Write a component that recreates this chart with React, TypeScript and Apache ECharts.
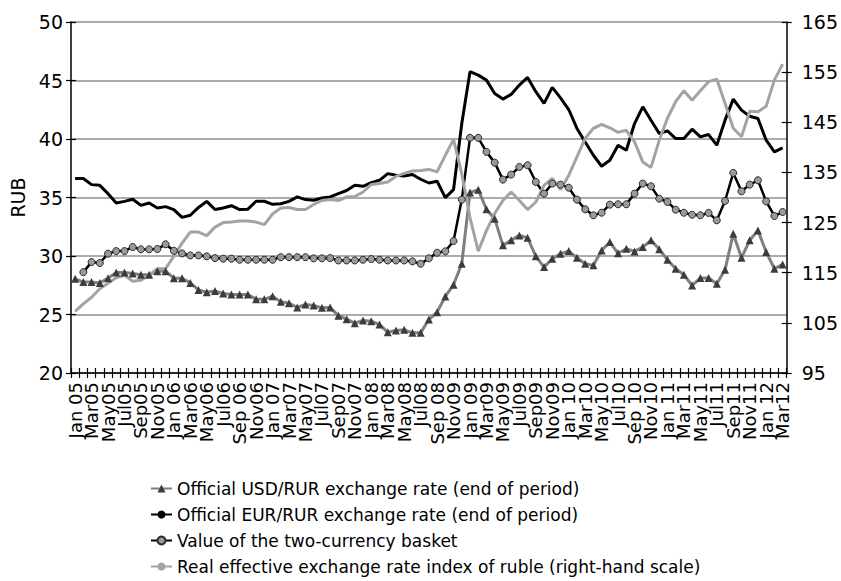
import { useEffect, useRef } from "react";
import * as echarts from "echarts";

// Monthly observations, January 2005 – March 2012
const months = [
  "Jan 05", "Feb05", "Mar05", "Apr05", "May05", "Jun05", "Jul05", "Aug05", "Sep05", "Oct05", "Nov05", "Dec05",
  "Jan 06", "Feb06", "Mar06", "Apr06", "May06", "Jun06", "Jul06", "Aug06", "Sep 06", "Oct06", "Nov06", "Dec06",
  "Jan 07", "Feb07", "Mar07", "Apr07", "May07", "Jun07", "Jul07", "Aug07", "Sep07", "Oct07", "Nov07", "Dec07",
  "Jan 08", "Feb08", "Mar08", "Apr08", "May08", "Jun08", "Jul08", "Aug08", "Sep 08", "Oct08", "Nov09", "Dec08",
  "Jan 09", "Feb09", "Mar09", "Apr09", "May09", "Jun09", "Jul09", "Aug09", "Sep09", "Oct09", "Nov09", "Dec09",
  "Jan 10", "Feb10", "Mar10", "Apr10", "May10", "Jun10", "Jul10", "Aug10", "Sep 10", "Oct10", "Nov10", "Dec10",
  "Jan 11", "Feb11", "Mar11", "Apr11", "May11", "Jun11", "Jul11", "Aug11", "Sep11", "Oct11", "Nov11", "Dec11",
  "Jan 12", "Feb12", "Mar12",
];

// RUB per USD, end of month
const usdRate = [
  28.05, 27.77, 27.77, 27.7, 28.1, 28.6, 28.6, 28.5, 28.4, 28.4, 28.7, 28.7,
  28.1, 28.1, 27.7, 27.1, 26.9, 27.0, 26.8, 26.7, 26.7, 26.7, 26.3, 26.3,
  26.57, 26.1, 25.97, 25.6, 25.86, 25.77, 25.57, 25.6, 24.9, 24.6, 24.26, 24.49,
  24.43, 24.14, 23.49, 23.63, 23.69, 23.43, 23.43, 24.57, 25.2, 26.54, 27.54, 29.34,
  35.42, 35.67, 33.99, 33.19, 30.91, 31.34, 31.76, 31.56, 29.97, 29.05, 29.77, 30.19,
  30.42, 29.85, 29.34, 29.2, 30.48, 31.19, 30.23, 30.62, 30.39, 30.76, 31.34, 30.57,
  29.68, 28.91, 28.4, 27.48, 28.11, 28.11, 27.63, 28.82, 31.91, 29.85, 31.34, 32.19,
  30.34, 28.91, 29.28,
];

// RUB per EUR, end of month
const eurRate = [
  36.62, 36.62, 36.1, 36.04, 35.33, 34.53, 34.67, 34.85, 34.33, 34.53, 34.1, 34.22,
  33.97, 33.3, 33.48, 34.15, 34.67, 33.97, 34.1, 34.3, 33.97, 34.0, 34.68, 34.68,
  34.42, 34.47, 34.67, 35.05, 34.82, 34.76, 34.96, 35.05, 35.33, 35.6, 36.04, 35.96,
  36.27, 36.47, 37.04, 36.9, 36.84, 36.96, 36.56, 36.24, 36.39, 34.99, 35.67, 41.32,
  45.75, 45.46, 45.03, 43.89, 43.41, 43.81, 44.61, 45.26, 44.04, 43.04, 44.41, 43.52,
  42.52, 40.9, 39.75, 38.61, 37.67, 38.18, 39.47, 39.04, 41.32, 42.75, 41.61, 40.47,
  40.7, 40.04, 40.04, 40.84, 40.18, 40.38, 39.47, 41.61, 43.41, 42.47, 41.95, 41.75,
  39.9, 38.9, 39.24,
];

// Dual-currency basket (USD + EUR), RUB; series begins in February 2005
const basketValue = [
  null, 28.62, 29.48, 29.4, 30.2, 30.42, 30.42, 30.77, 30.57, 30.57, 30.6, 31.0,
  30.45, 30.22, 30.05, 30.05, 29.97, 29.82, 29.77, 29.77, 29.68, 29.68, 29.68, 29.68,
  29.68, 29.9, 29.9, 29.9, 29.9, 29.8, 29.8, 29.82, 29.62, 29.62, 29.62, 29.68,
  29.74, 29.68, 29.62, 29.62, 29.62, 29.54, 29.34, 29.8, 30.28, 30.4, 31.28, 34.82,
  40.1, 40.1, 38.9, 37.98, 36.53, 36.96, 37.61, 37.76, 36.33, 35.33, 36.19, 36.1,
  35.84, 34.82, 33.99, 33.48, 33.7, 34.39, 34.42, 34.42, 35.33, 36.19, 35.96, 34.9,
  34.62, 33.96, 33.7, 33.53, 33.48, 33.68, 33.05, 34.7, 37.1, 35.53, 36.1, 36.47,
  34.67, 33.42, 33.76,
];

// Real effective exchange rate index of the ruble (right-hand scale)
const reerIndex = [
  107.3, 108.8, 110.1, 111.8, 112.9, 114.0, 114.5, 113.3, 113.5, 114.5, 115.8, 115.8,
  118.3, 120.9, 123.1, 123.1, 122.4, 124.1, 125.0, 125.1, 125.3, 125.3, 125.1, 124.6,
  126.7, 127.9, 128.0, 127.6, 127.6, 128.6, 129.4, 129.6, 129.4, 130.1, 130.2, 131.1,
  132.6, 132.8, 133.1, 134.2, 134.8, 135.3, 135.4, 135.6, 135.1, 138.4, 141.6, 134.7,
  126.0, 119.3, 123.4, 126.8, 129.4, 131.1, 129.4, 127.6, 129.1, 132.4, 133.8, 131.6,
  134.4, 138.1, 141.8, 143.8, 144.6, 143.9, 143.0, 143.4, 141.1, 137.1, 136.0, 141.4,
  145.8, 149.1, 151.3, 149.4, 151.3, 153.1, 153.6, 148.8, 143.8, 142.1, 147.2, 147.1,
  148.2, 153.4, 156.6,
];

const seriesNames = [
  "Official USD/RUR exchange rate (end of period)",
  "Official EUR/RUR exchange rate (end of period)",
  "Value of the two-currency basket",
  "Real effective exchange rate index of ruble (right-hand scale)",
];

const leftScale = { min: 20, max: 50, interval: 5 };
const rightScale = { min: 95, max: 165, interval: 10 };

const FONT = "DejaVu Sans";
const INK = "#000";

export default function App() {
  const ref = useRef<HTMLDivElement>(null);

  useEffect(() => {
    if (!ref.current) return;
    const chart = echarts.init(ref.current, null, { renderer: "svg" });

    const tickStyle = { color: INK, width: 1.2 };

    chart.setOption({
      animation: false,
      backgroundColor: "#fff",
      grid: { left: 70, right: 44, top: 22, height: 351 },
      legend: {
        orient: "vertical",
        left: 145,
        top: 475,
        height: 104,
        itemWidth: 21,
        itemHeight: 10,
        itemGap: 9,
        selectedMode: false,
        textStyle: { fontFamily: FONT, fontSize: 17, lineHeight: 17, color: INK },
        data: seriesNames,
      },
      xAxis: [
        {
          type: "category",
          data: months,
          boundaryGap: true,
          position: "bottom",
          axisLine: { show: true, lineStyle: { color: INK, width: 1.5 } },
          axisTick: { show: true, interval: 0, length: 5, lineStyle: tickStyle },
          axisLabel: {
            interval: 0,
            // every other month is labelled: Jan, Mar, May, Jul, Sep, Nov
            formatter: (value: string, index: number) => (index % 2 === 0 ? value : ""),
            hideOverlap: false,
            rotate: 90,
            margin: 9,
            fontFamily: FONT,
            fontSize: 18,
            color: INK,
          },
          splitLine: { show: false },
        },
        {
          // inward half of the cross tick marks
          type: "category",
          data: months,
          boundaryGap: true,
          position: "bottom",
          axisLine: { show: false },
          axisTick: { show: true, inside: true, interval: 0, length: 5, lineStyle: tickStyle },
          axisLabel: { show: false },
          splitLine: { show: false },
        },
      ],
      yAxis: [
        {
          type: "value",
          position: "left",
          ...leftScale,
          name: "RUB",
          nameLocation: "middle",
          nameRotate: 90,
          nameGap: 44,
          nameTextStyle: { fontFamily: FONT, fontSize: 19, color: INK },
          axisLine: { show: true, lineStyle: { color: INK, width: 1.5 } },
          axisTick: { show: true, length: 5, lineStyle: tickStyle },
          axisLabel: { margin: 8, fontFamily: FONT, fontSize: 19, color: INK },
          splitLine: { show: true, lineStyle: { color: "#8f8f8f", width: 1.5 } },
        },
        {
          type: "value",
          position: "right",
          ...rightScale,
          axisLine: { show: true, lineStyle: { color: INK, width: 1.5 } },
          axisTick: { show: true, length: 5, lineStyle: tickStyle },
          axisLabel: { margin: 15, fontFamily: FONT, fontSize: 19, color: INK },
          splitLine: { show: false },
        },
        {
          type: "value",
          position: "left",
          ...leftScale,
          axisLine: { show: false },
          axisTick: { show: true, inside: true, length: 5, lineStyle: tickStyle },
          axisLabel: { show: false },
          splitLine: { show: false },
        },
        {
          type: "value",
          position: "right",
          ...rightScale,
          axisLine: { show: false },
          axisTick: { show: true, inside: true, length: 5, lineStyle: tickStyle },
          axisLabel: { show: false },
          splitLine: { show: false },
        },
      ],
      series: [
        {
          name: seriesNames[0],
          type: "line",
          data: usdRate,
          symbol: "triangle",
          symbolSize: 8,
          showAllSymbol: true,
          lineStyle: { color: "#7f7f7f", width: 3 },
          itemStyle: { color: "#3c3c3c", borderWidth: 0 },
          emphasis: { disabled: true },
        },
        {
          name: seriesNames[1],
          type: "line",
          data: eurRate,
          symbol: "none",
          lineStyle: { color: "#000", width: 3 },
          itemStyle: { color: "#000" },
          emphasis: { disabled: true },
        },
        {
          name: seriesNames[2],
          type: "line",
          data: basketValue,
          symbol: "circle",
          symbolSize: 7,
          showAllSymbol: true,
          lineStyle: { color: "#000", width: 2.5 },
          itemStyle: { color: "#9a9a9a", borderColor: "#2a2a2a", borderWidth: 1 },
          emphasis: { disabled: true },
        },
        {
          name: seriesNames[3],
          type: "line",
          yAxisIndex: 1,
          data: reerIndex,
          symbol: "none",
          lineStyle: { color: "#a3a3a3", width: 3 },
          itemStyle: { color: "#a3a3a3" },
          emphasis: { disabled: true },
        },
      ],
    });

    return () => chart.dispose();
  }, []);

  return (
    <div
      ref={ref}
      style={{ position: "fixed", left: 0, top: 0, width: 841, height: 581, background: "#fff" }}
    />
  );
}
